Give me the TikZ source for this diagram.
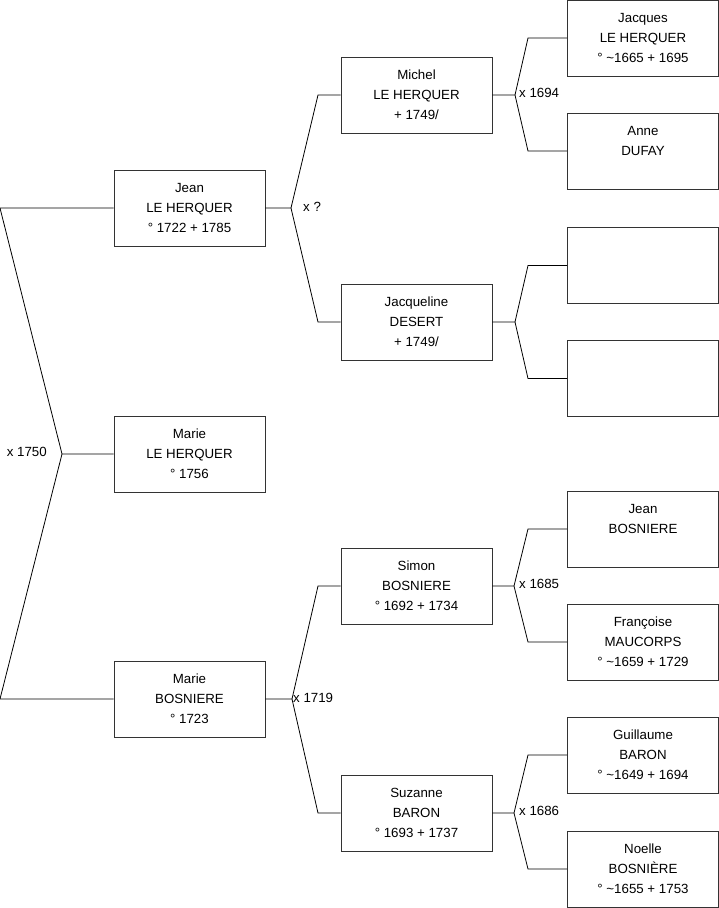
\documentclass[tikz,border=0pt]{standalone}
\usepackage{fontspec}
\setmainfont{Liberation Sans}
\usetikzlibrary{positioning}

\begin{document}
\begin{tikzpicture}[x=1pt,y=-1pt,
  person/.style={draw=black!80, line width=0.8pt, minimum width=151pt, minimum height=76pt,
    inner sep=0pt, align=center, font=\fontsize{13.3}{20}\selectfont},
  link/.style={draw=black, line width=0.8pt},
  wed/.style={inner sep=0pt, font=\fontsize{13.3}{15}\selectfont}]
  \useasboundingbox (0,0) rectangle (719,908);
  % generation 1
  \node[person] (jean) at (189.5,208) {Jean\\LE HERQUER\\° 1722 + 1785};
  \node[person] (marie) at (189.5,454) {Marie\\LE HERQUER\\° 1756};
  \node[person] (mariebos) at (189.5,699) {Marie\\BOSNIERE\\° 1723};
  % generation 2
  \node[person] (michel) at (416.5,95) {Michel\\LE HERQUER\\+ 1749/};
  \node[person] (jacqueline) at (416.5,322) {Jacqueline\\DESERT\\+ 1749/};
  \node[person] (simon) at (416.5,586) {Simon\\BOSNIERE\\° 1692 + 1734};
  \node[person] (suzanne) at (416.5,813) {Suzanne\\BARON\\° 1693 + 1737};
  % generation 3
  \node[person] (jacques) at (643,38) {Jacques\\LE HERQUER\\° \textasciitilde1665 + 1695};
  \node[person] (anne) at (643,151) {Anne\\DUFAY\\\mbox{}};
  \node[person] (nn1) at (643,265.5) {};
  \node[person] (nn2) at (643,378.5) {};
  \node[person] (jeanbos) at (643,529) {Jean\\BOSNIERE\\\mbox{}};
  \node[person] (francoise) at (643,642) {Françoise\\MAUCORPS\\° \textasciitilde1659 + 1729};
  \node[person] (guillaume) at (643,755) {Guillaume\\BARON\\° \textasciitilde1649 + 1694};
  \node[person] (noelle) at (643,869) {Noelle\\BOSNIÈRE\\° \textasciitilde1655 + 1753};

  % bend columns
  \coordinate (l0) at (0,0);
  \coordinate (l1) at (318,0);
  \coordinate (l2) at (528,0);

  % x 1750
  \coordinate (v1750) at (62,454);
  \draw[link] (jean.west) -- (jean.west -| l0) -- (v1750) -- (marie.west);
  \draw[link] (v1750) -- (mariebos.west -| l0) -- (mariebos.west);
  \node[wed, left=15pt of v1750, yshift=2pt] (w1750) {x 1750};

  % x ?
  \coordinate (vq) at (291,208);
  \draw[link] (jean.east) -- (vq) -- (michel.west -| l1) -- (michel.west);
  \draw[link] (vq) -- (jacqueline.west -| l1) -- (jacqueline.west);
  \node[wed, right=12pt of vq, yshift=1pt] (wq) {x ?};

  % x 1719
  \coordinate (v1719) at (292,699);
  \draw[link] (mariebos.east) -- (v1719) -- (simon.west -| l1) -- (simon.west);
  \draw[link] (v1719) -- (suzanne.west -| l1) -- (suzanne.west);
  \node[wed, right=1pt of v1719, yshift=1pt] (w1719) {x 1719};

  % x 1694
  \coordinate (v1694) at (515,95);
  \draw[link] (michel.east) -- (v1694) -- (jacques.west -| l2) -- (jacques.west);
  \draw[link] (v1694) -- (anne.west -| l2) -- (anne.west);
  \node[wed, right=4pt of v1694, yshift=2pt] (w1694) {x 1694};

  % Jacqueline
  \coordinate (vdes) at (515,322);
  \draw[link] (jacqueline.east) -- (vdes) -- (nn1.west -| l2) -- (nn1.west);
  \draw[link] (vdes) -- (nn2.west -| l2) -- (nn2.west);

  % x 1685
  \coordinate (v1685) at (514,586);
  \draw[link] (simon.east) -- (v1685) -- (jeanbos.west -| l2) -- (jeanbos.west);
  \draw[link] (v1685) -- (francoise.west -| l2) -- (francoise.west);
  \node[wed, right=5pt of v1685, yshift=2pt] (w1685) {x 1685};

  % x 1686
  \coordinate (v1686) at (514,813);
  \draw[link] (suzanne.east) -- (v1686) -- (guillaume.west -| l2) -- (guillaume.west);
  \draw[link] (v1686) -- (noelle.west -| l2) -- (noelle.west);
  \node[wed, right=5pt of v1686, yshift=2pt] (w1686) {x 1686};
\end{tikzpicture}
\end{document}
